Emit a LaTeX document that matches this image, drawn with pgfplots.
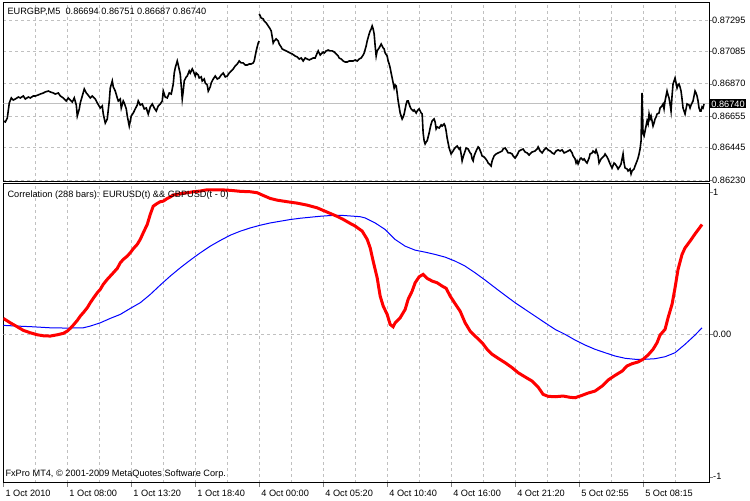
\documentclass[border=0pt]{standalone}
\usepackage{fontspec}
\setmainfont{Liberation Sans}
\usepackage{pgfplots}
\pgfplotsset{compat=1.18}
\newcommand\mt{\fontsize{9.2bp}{11bp}\selectfont}
\definecolor{gridc}{RGB}{192,192,192}
\definecolor{bidc}{RGB}{192,192,192}
\pgfplotsset{
  mtpanel/.style={
    scale only axis, width=706bp, xmin=3, xmax=709,
    axis line style={black, line width=1bp},
    tick align=outside,
    xtick={3,67,131,195,259,323,387,451,515,579,643},
    minor xtick={35,99,163,227,291,355,419,483,547,611,675},
    xmajorgrids, xminorgrids,
    major grid style={gridc, dash pattern=on 3bp off 3bp, line width=0.8bp},
    minor grid style={gridc, dash pattern=on 3bp off 3bp, line width=0.8bp},
    minor tick length=0pt,
    major tick length=3bp,
    ytick pos=right, yticklabel pos=right,
    scaled y ticks=false,
    ticklabel style={font=\mt},
    yticklabel style={anchor=west, inner sep=0pt, xshift=0bp},
  }
}
\begin{document}
\begin{tikzpicture}
\fill[white] (0,0) rectangle (750bp,500bp);
% price panel
\begin{axis}[mtpanel, at={(3bp,319bp)}, anchor=south west, height=179bp,
  ymin=0.86217, ymax=0.87408,
  ytick={0.86230,0.86445,0.86655,0.86870,0.87085,0.87295},
  yticklabels={0.86230,0.86445,0.86655,0.86870,0.87085,0.87295},
  ymajorgrids, xticklabels={}, xtick style={draw=none}]
\addplot[bidc, line width=0.8bp] coordinates {(3,0.86740) (709,0.86740)};
\addplot[black, line width=1.6bp] table {
3 0.86623
5 0.86616
7 0.86643
9 0.86743
11 0.86776
13 0.86762
15 0.86769
18 0.86782
20 0.86776
23 0.86789
25 0.86769
28 0.86782
30 0.86776
33 0.86789
35 0.86789
38 0.86796
40 0.86802
43 0.86809
45 0.86816
48 0.86822
50 0.86816
53 0.86809
55 0.86802
58 0.86809
60 0.86789
63 0.86776
66 0.86756
68 0.86776
70 0.86762
72 0.86749
74 0.86776
76 0.86729
77 0.86656
79 0.86703
80 0.86743
82 0.86789
84 0.86836
86 0.86809
87 0.86802
90 0.86776
92 0.86789
95 0.86769
97 0.86743
100 0.86709
102 0.86723
103 0.86669
105 0.86609
107 0.86636
109 0.86756
110 0.86842
112 0.86889
113 0.86849
115 0.86822
117 0.86776
118 0.86756
120 0.86769
121 0.86709
123 0.86756
124 0.86743
126 0.86703
127 0.86656
129 0.86589
131 0.86656
133 0.86676
135 0.86703
137 0.86729
138 0.86756
140 0.86729
142 0.86736
144 0.86703
146 0.86709
148 0.86669
150 0.86716
152 0.86736
154 0.86709
156 0.86689
158 0.86723
160 0.86736
162 0.86756
163 0.86822
165 0.86782
167 0.86776
169 0.86809
171 0.86802
173 0.86869
174 0.86942
175 0.86976
177 0.87022
178 0.86995
180 0.86936
181 0.86856
182 0.86769
183 0.86822
184 0.86889
186 0.86916
187 0.86922
189 0.86956
190 0.86942
192 0.86969
193 0.86956
195 0.86922
196 0.86942
198 0.86929
199 0.86909
201 0.86916
202 0.86889
204 0.86902
205 0.86876
207 0.86862
208 0.86822
210 0.86849
211 0.86876
213 0.86902
215 0.86922
217 0.86902
219 0.86909
221 0.86929
223 0.86942
225 0.86916
227 0.86922
229 0.86942
231 0.86956
233 0.86969
235 0.86989
237 0.87002
239 0.87022
241 0.87009
243 0.87009
245 0.86995
247 0.86995
249 0.87002
251 0.87002
253 0.87009
254 0.87022
256 0.87089
258 0.87142
259 0.87155
};
\addplot[black, line width=1.6bp] table {
259 0.87335
260 0.87322
261 0.87308
263 0.87302
264 0.87288
266 0.87275
268 0.87255
270 0.87235
271 0.87222
272 0.87182
273 0.87142
274 0.87155
276 0.87169
278 0.87155
279 0.87135
281 0.87115
282 0.87102
284 0.87095
286 0.87089
288 0.87082
290 0.87075
292 0.87069
295 0.87055
297 0.87049
299 0.87035
301 0.87042
303 0.87022
305 0.87042
307 0.87035
309 0.87029
311 0.87035
313 0.87042
315 0.87042
317 0.87075
318 0.87089
320 0.87062
321 0.87069
323 0.87082
324 0.87075
326 0.87089
328 0.87095
330 0.87089
332 0.87089
334 0.87082
336 0.87069
338 0.87055
339 0.87042
341 0.87035
343 0.87022
345 0.87015
347 0.87015
349 0.87022
351 0.87022
353 0.87022
355 0.87029
357 0.87022
359 0.87035
361 0.87042
363 0.87062
364 0.87075
366 0.87122
367 0.87155
369 0.87202
370 0.87222
371 0.87235
372 0.87255
373 0.87235
374 0.87202
375 0.87122
376 0.87055
377 0.87089
379 0.87109
381 0.87135
382 0.87122
383 0.87109
384 0.87102
385 0.87075
387 0.87055
388 0.87022
389 0.87002
390 0.86976
391 0.86942
392 0.86909
393 0.86876
394 0.86842
395 0.86862
396 0.86856
397 0.86809
398 0.86756
399 0.86716
400 0.86676
401 0.86656
402 0.86636
403 0.86649
404 0.86669
405 0.86703
406 0.86736
407 0.86756
408 0.86756
410 0.86716
411 0.86703
413 0.86689
414 0.86696
416 0.86676
417 0.86689
419 0.86703
420 0.86689
421 0.86676
422 0.86669
423 0.86543
424 0.86490
425 0.86470
426 0.86483
427 0.86490
429 0.86543
430 0.86576
431 0.86603
432 0.86623
434 0.86636
435 0.86616
436 0.86570
437 0.86583
439 0.86576
441 0.86596
442 0.86589
444 0.86603
445 0.86589
446 0.86556
447 0.86510
448 0.86476
449 0.86443
450 0.86423
451 0.86403
453 0.86423
454 0.86436
456 0.86450
457 0.86456
459 0.86436
460 0.86443
461 0.86403
462 0.86357
463 0.86383
465 0.86423
466 0.86443
468 0.86436
470 0.86410
471 0.86403
472 0.86370
473 0.86357
474 0.86390
476 0.86423
478 0.86450
479 0.86443
481 0.86410
482 0.86390
484 0.86383
485 0.86376
487 0.86357
488 0.86343
490 0.86330
491 0.86323
492 0.86357
494 0.86390
496 0.86403
498 0.86410
500 0.86416
502 0.86423
503 0.86436
505 0.86443
507 0.86423
508 0.86410
510 0.86410
512 0.86403
513 0.86390
515 0.86376
517 0.86396
519 0.86423
521 0.86430
523 0.86436
525 0.86416
527 0.86410
529 0.86396
530 0.86403
532 0.86416
535 0.86423
537 0.86436
538 0.86450
540 0.86423
542 0.86410
544 0.86430
546 0.86443
548 0.86430
550 0.86423
552 0.86410
554 0.86403
556 0.86423
558 0.86430
560 0.86423
562 0.86430
564 0.86410
566 0.86416
568 0.86423
570 0.86430
572 0.86410
573 0.86390
575 0.86370
576 0.86343
577 0.86357
578 0.86337
580 0.86370
581 0.86376
583 0.86363
584 0.86370
586 0.86350
587 0.86343
589 0.86376
590 0.86403
592 0.86410
593 0.86423
595 0.86410
596 0.86430
598 0.86390
599 0.86343
601 0.86370
602 0.86376
604 0.86390
605 0.86403
607 0.86383
608 0.86370
610 0.86337
611 0.86323
612 0.86310
614 0.86343
615 0.86337
617 0.86317
618 0.86303
620 0.86323
621 0.86337
622 0.86370
623 0.86403
624 0.86343
625 0.86310
627 0.86303
628 0.86290
630 0.86303
631 0.86270
632 0.86290
634 0.86303
635 0.86323
637 0.86357
638 0.86376
639 0.86403
640 0.86436
641 0.86490
642 0.86809
643 0.86536
644 0.86523
645 0.86556
646 0.86589
647 0.86623
648 0.86603
649 0.86669
650 0.86636
651 0.86656
652 0.86623
653 0.86589
654 0.86609
655 0.86636
656 0.86649
657 0.86669
659 0.86676
660 0.86709
662 0.86723
663 0.86736
664 0.86703
665 0.86756
666 0.86789
667 0.86822
668 0.86796
669 0.86776
670 0.86736
671 0.86689
672 0.86789
673 0.86869
674 0.86889
675 0.86909
676 0.86876
677 0.86842
678 0.86862
679 0.86869
680 0.86849
681 0.86822
682 0.86769
683 0.86709
684 0.86689
685 0.86669
686 0.86703
687 0.86736
689 0.86729
690 0.86709
691 0.86729
693 0.86756
694 0.86789
695 0.86822
696 0.86809
697 0.86789
698 0.86756
699 0.86709
700 0.86689
701 0.86689
702 0.86716
703 0.86709
704 0.86736
};
\end{axis}
% correlation panel
\begin{axis}[mtpanel, at={(3bp,18bp)}, anchor=south west, height=299bp,
  ymin=-1.042, ymax=1.056,
  ytick={-1,0,1}, yticklabels={-1,0.00,1},
  xtick pos=bottom, major tick length=4bp,
  xticklabels={1 Oct 2010,1 Oct 08:00,1 Oct 13:20,1 Oct 18:40,4 Oct 00:00,4 Oct 05:20,4 Oct 10:40,4 Oct 16:00,4 Oct 21:20,5 Oct 02:55,5 Oct 08:15},
  xticklabel style={anchor=north west, inner sep=0pt, xshift=2bp, yshift=-3bp}]
\addplot[gridc, line width=0.8bp, dash pattern=on 3bp off 3bp] coordinates {(3,0) (709,0)};
\addplot[blue, line width=1bp] table {
3 0.063
17 0.058
33 0.053
50 0.046
67 0.044
83 0.046
90 0.058
100 0.081
110 0.112
120 0.140
130 0.182
140 0.222
150 0.280
160 0.346
170 0.409
180 0.467
190 0.521
200 0.572
210 0.619
220 0.659
230 0.696
240 0.724
250 0.747
260 0.766
270 0.782
280 0.794
290 0.806
300 0.815
310 0.822
320 0.829
330 0.834
340 0.836
350 0.831
360 0.826
365 0.817
375 0.782
385 0.736
395 0.666
405 0.619
415 0.591
425 0.577
435 0.561
445 0.542
455 0.514
465 0.479
475 0.432
485 0.381
495 0.327
505 0.274
515 0.222
525 0.175
535 0.128
545 0.081
555 0.035
565 0.000
575 -0.040
585 -0.075
595 -0.105
605 -0.129
615 -0.152
625 -0.168
635 -0.175
645 -0.175
655 -0.171
665 -0.157
675 -0.129
685 -0.070
695 -0.005
702 0.046
};
\addplot[red, line width=3bp] table {
3 0.112
10 0.081
17 0.053
23 0.028
30 0.011
37 -0.003
43 -0.010
50 -0.012
57 -0.003
63 0.007
67 0.023
70 0.042
73 0.065
77 0.098
80 0.128
83 0.152
87 0.187
90 0.222
93 0.253
97 0.292
100 0.316
103 0.351
107 0.386
110 0.409
113 0.432
117 0.463
120 0.502
123 0.526
127 0.549
130 0.573
133 0.601
137 0.632
140 0.667
143 0.713
147 0.772
150 0.842
153 0.900
157 0.919
160 0.931
163 0.935
167 0.954
170 0.964
173 0.978
180 0.987
187 0.994
193 1.001
200 1.006
207 1.015
220 1.015
230 1.011
240 1.004
250 1.001
257 0.994
263 0.975
270 0.954
277 0.942
287 0.931
297 0.921
307 0.907
317 0.888
323 0.870
330 0.849
337 0.828
343 0.807
350 0.779
355 0.760
362 0.725
367 0.667
370 0.608
373 0.514
377 0.397
380 0.269
383 0.199
387 0.140
390 0.070
393 0.053
395 0.081
400 0.116
405 0.175
408 0.246
412 0.304
415 0.362
419 0.404
423 0.421
427 0.393
432 0.374
437 0.362
442 0.339
446 0.323
450 0.269
455 0.215
460 0.163
465 0.081
470 0.023
475 -0.012
482 -0.059
487 -0.105
492 -0.140
498 -0.168
505 -0.199
512 -0.234
518 -0.269
525 -0.299
532 -0.328
538 -0.370
543 -0.421
548 -0.435
555 -0.438
563 -0.433
570 -0.442
575 -0.445
582 -0.428
588 -0.412
595 -0.398
602 -0.363
608 -0.321
615 -0.288
622 -0.258
627 -0.222
632 -0.206
638 -0.194
643 -0.175
648 -0.145
653 -0.105
657 -0.059
660 -0.005
665 0.035
668 0.116
672 0.211
675 0.327
678 0.456
682 0.561
685 0.607
690 0.654
695 0.705
702 0.771
};
\end{axis}
\node[anchor=west, font=\mt, inner sep=0pt] at (7bp,489bp) {EURGBP,M5\ \ 0.86694 0.86751 0.86687 0.86740};
\node[anchor=west, font=\mt, inner sep=0pt] at (7bp,306bp) {Correlation (288 bars): EURUSD(t) \&\& GBPUSD(t - 0)};
\node[anchor=west, font=\mt, inner sep=0pt] at (5bp,27bp) {FxPro MT4, © 2001-2009 MetaQuotes Software Corp.};
\node[anchor=west, font=\mt, fill=black, text=white, inner sep=1.2bp] at (710bp,397bp) {0.86740};
\end{tikzpicture}
\end{document}
